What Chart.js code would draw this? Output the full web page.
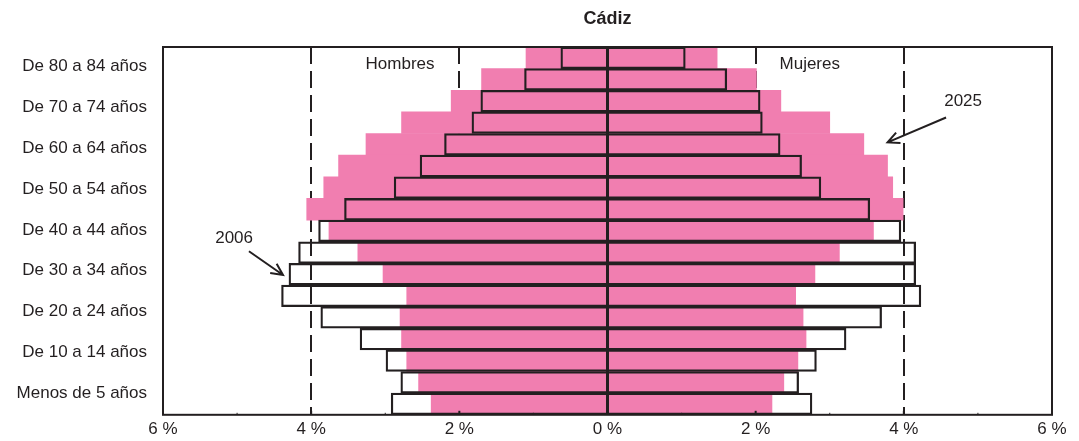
<!DOCTYPE html>
<html>
<head>
<meta charset="utf-8">
<script src="https://cdn.jsdelivr.net/npm/chart.js@4.4.1/dist/chart.umd.min.js"></script>
<style>
  html, body { margin: 0; padding: 0; background: #fff; }
  #wrap { width: 1079px; height: 441px; }
</style>
</head>
<body>
<div id="wrap"><canvas id="piramide"></canvas></div>
<script>
// Pirámide de población de Cádiz, 2006 frente a 2025 (% sobre el total)
const edades = [
  'De 80 a 84 años', 'De 75 a 79 años', 'De 70 a 74 años', 'De 65 a 69 años',
  'De 60 a 64 años', 'De 55 a 59 años', 'De 50 a 54 años', 'De 45 a 49 años',
  'De 40 a 44 años', 'De 35 a 39 años', 'De 30 a 34 años', 'De 25 a 29 años',
  'De 20 a 24 años', 'De 15 a 19 años', 'De 10 a 14 años', 'De 5 a 9 años',
  'Menos de 5 años'
];
const hombres2025 = [1.10, 1.70, 2.11, 2.78, 3.26, 3.63, 3.83, 4.06, 3.76, 3.37, 3.03, 2.71, 2.80, 2.78, 2.71, 2.55, 2.38];
const mujeres2025 = [1.48, 2.01, 2.34, 3.00, 3.46, 3.78, 3.85, 3.99, 3.59, 3.13, 2.80, 2.54, 2.64, 2.68, 2.57, 2.38, 2.22];
const hombres2006 = [0.63, 1.12, 1.71, 1.83, 2.20, 2.53, 2.88, 3.55, 3.90, 4.17, 4.30, 4.40, 3.87, 3.34, 2.99, 2.79, 2.92];
const mujeres2006 = [1.05, 1.61, 2.06, 2.09, 2.33, 2.62, 2.88, 3.54, 3.96, 4.16, 4.16, 4.23, 3.70, 3.22, 2.82, 2.58, 2.76];

// etiquetas del eje vertical (solo una de cada dos, de abajo arriba)
const etiquetasY = [
  'Menos de 5 años', 'De 10 a 14 años', 'De 20 a 24 años', 'De 30 a 34 años',
  'De 40 a 44 años', 'De 50 a 54 años', 'De 60 a 64 años', 'De 70 a 74 años',
  'De 80 a 84 años'
];
const ticksX = [-6, -4, -2, 0, 2, 4, 6];

const NEGRO = '#231f20';
const ROSA  = '#f17eb0';
const fuente = '"Liberation Sans", Arial, Helvetica, sans-serif';

const neg = arr => arr.map(v => -v);

const adornos = {
  id: 'adornos',
  afterDatasetsDraw(chart) {
    const { ctx, chartArea: a, scales } = chart;
    const x0 = scales.x.getPixelForValue(0);
    ctx.save();
    ctx.strokeStyle = NEGRO;
    // eje central
    ctx.lineWidth = 3;
    ctx.beginPath();
    ctx.moveTo(x0, a.top); ctx.lineTo(x0, a.bottom);
    ctx.stroke();
    // marco
    ctx.lineWidth = 2;
    ctx.strokeRect(a.left, a.top, a.right - a.left, a.bottom - a.top);
    // marcas hacia dentro en el eje inferior
    [-5, -4, -3, -2, -1, 1, 2, 3, 4, 5].forEach(v => {
      const px = scales.x.getPixelForValue(v);
      ctx.lineWidth = v % 2 === 0 ? 2 : 1;
      ctx.beginPath();
      ctx.moveTo(px, a.bottom); ctx.lineTo(px, a.bottom - (v % 2 === 0 ? 4 : 2));
      ctx.stroke();
    });
    ctx.restore();
  },
  afterDraw(chart) {
    const { ctx, chartArea: a, scales } = chart;
    const X = v => scales.x.getPixelForValue(v);
    const Y = v => scales.y.getPixelForValue(v);
    ctx.save();
    ctx.fillStyle = NEGRO;
    ctx.textAlign = 'center';
    ctx.textBaseline = 'middle';
    ctx.font = 'bold 18px ' + fuente;
    ctx.fillText('Cádiz', (a.left + a.right) / 2, 19);

    ctx.font = '17px ' + fuente;
    ctx.fillText('Hombres', X(-2.80), Y(0.32));
    ctx.fillText('Mujeres', X(2.73), Y(0.32));
    ctx.fillText('2025', X(4.80), Y(2.01));
    ctx.fillText('2006', X(-5.04), Y(8.34));

    const flecha = (x1, y1, x2, y2) => {
      const ang = Math.atan2(y2 - y1, x2 - x1);
      ctx.strokeStyle = NEGRO;
      ctx.lineWidth = 2;
      ctx.beginPath();
      ctx.moveTo(x1, y1); ctx.lineTo(x2, y2);
      ctx.moveTo(x2 - 13 * Math.cos(ang - 0.45), y2 - 13 * Math.sin(ang - 0.45));
      ctx.lineTo(x2, y2);
      ctx.lineTo(x2 - 13 * Math.cos(ang + 0.45), y2 - 13 * Math.sin(ang + 0.45));
      ctx.stroke();
    };
    flecha(X(4.57), Y(2.76), X(3.78), Y(3.91));
    flecha(X(-4.84), Y(8.94), X(-4.38), Y(10.04));
    ctx.restore();
  }
};

new Chart(document.getElementById('piramide'), {
  type: 'bar',
  data: {
    labels: edades,
    datasets: [
      { label: 'Hombres 2006', data: neg(hombres2006), backgroundColor: 'rgba(0,0,0,0)', borderColor: NEGRO, borderWidth: 1.6, grouped: false },
      { label: 'Mujeres 2006', data: mujeres2006, backgroundColor: 'rgba(0,0,0,0)', borderColor: NEGRO, borderWidth: 1.6, grouped: false },
      { label: 'Hombres 2025', data: neg(hombres2025), backgroundColor: ROSA, borderWidth: 0, grouped: false },
      { label: 'Mujeres 2025', data: mujeres2025, backgroundColor: ROSA, borderWidth: 0, grouped: false }
    ]
  },
  options: {
    indexAxis: 'y',
    responsive: true,
    maintainAspectRatio: false,
    animation: false,
    barPercentage: 1,
    categoryPercentage: 1,
    layout: { padding: { top: 47, right: 27, bottom: 0, left: 0 } },
    plugins: { legend: { display: false }, tooltip: { enabled: false } },
    scales: {
      x: {
        min: -6, max: 6,
        afterBuildTicks: s => { s.ticks = ticksX.map(v => ({ value: v })); },
        afterFit: s => { s.height = 25; },
        grid: {
          drawTicks: false,
          lineWidth: 2,
          color: c => (Math.abs(c.tick.value) === 2 || Math.abs(c.tick.value) === 4) ? NEGRO : 'rgba(0,0,0,0)'
        },
        border: { display: false, dash: [17, 7] },
        ticks: {
          padding: 4,
          color: NEGRO,
          font: { family: fuente, size: 17 },
          callback: v => Math.abs(v) + ' %'
        }
      },
      y: {
        type: 'category',
        display: false,
        grid: { display: false }
      },
      etiquetas: {
        type: 'linear',
        position: 'left',
        offset: false,
        bounds: 'data',
        min: -0.53, max: 8.48,
        afterBuildTicks: s => { s.ticks = etiquetasY.map((_, i) => ({ value: i })); },
        afterFit: s => { s.width = 163; },
        border: { display: false },
        grid: { display: false, drawTicks: false, offset: false },
        ticks: {
          padding: 16,
          color: NEGRO,
          font: { family: fuente, size: 17 },
          callback: v => etiquetasY[v] || ''
        }
      }
    }
  },
  plugins: [adornos]
});
</script>
</body>
</html>
